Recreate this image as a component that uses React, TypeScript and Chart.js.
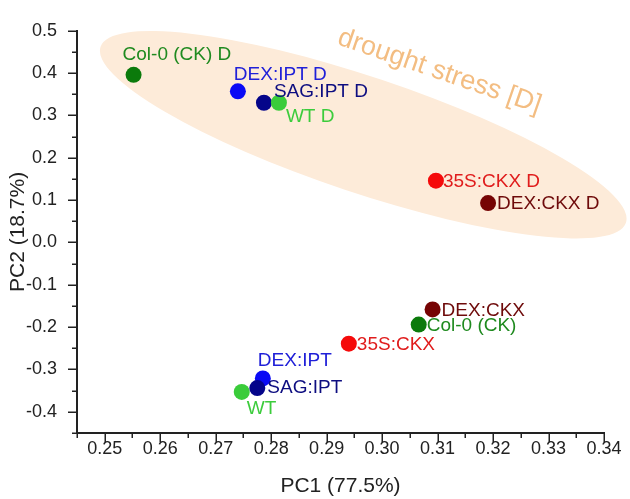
import React, { useEffect, useRef } from "react";
import { Chart, registerables } from "chart.js";

Chart.register(...registerables);

// ---- data ----
const SAMPLES = [
  "Col-0 (CK) D",
  "DEX:IPT D",
  "SAG:IPT D",
  "WT D",
  "35S:CKX D",
  "DEX:CKX D",
  "DEX:CKX",
  "Col-0 (CK)",
  "35S:CKX",
  "WT",
  "DEX:IPT",
  "SAG:IPT",
];
const PC1 = [0.2552, 0.274, 0.2787, 0.2814, 0.3097, 0.3191, 0.3091, 0.3066, 0.294, 0.2747, 0.2785, 0.2775];
const PC2 = [0.396, 0.357, 0.33, 0.33, 0.146, 0.093, -0.158, -0.194, -0.239, -0.353, -0.321, -0.344];
const X_TICKS = [0.25, 0.26, 0.27, 0.28, 0.29, 0.3, 0.31, 0.32, 0.33, 0.34];
const Y_TICKS = [-0.4, -0.3, -0.2, -0.1, 0.0, 0.1, 0.2, 0.3, 0.4, 0.5];
const X_TITLE = "PC1 (77.5%)";
const Y_TITLE = "PC2 (18.7%)";
const GROUP_LABEL = "drought stress [D]";

// ---- styles ----
const POINT_COLORS = [
  "#0b7a0b", "#0a0af5", "#05058a", "#3acc3a", "#f50a0a", "#760404",
  "#760404", "#0b7a0b", "#f50a0a", "#3acc3a", "#0a0af5", "#05058a",
];
const TEXT_COLORS = [
  "#1f8a1f", "#2020d8", "#0d0d80", "#3ccc3c", "#e01c1c", "#6e0a0a",
  "#6e0a0a", "#1f8a1f", "#e01c1c", "#3ccc3c", "#2020d8", "#0d0d80",
];
// label anchor offsets in px relative to the point centre: [dx to text start, dy to baseline]
const LABEL_OFFSETS: [number, number][] = [
  [-11, -15], [-4, -11], [10, -6], [7, 19], [7, 6.5], [9, 6],
  [9, 6.5], [8, 6.5], [8, 6], [5, 22], [-5, -12.7], [10, 5],
];
const FONT = "'Liberation Sans', Arial, sans-serif";
const AXIS_COLOR = "#222222";

const ELLIPSE_CENTER = { x: 0.2966, y: 0.2545 };
const ELLIPSE_RX = 277;
const ELLIPSE_RY = 58;
const ELLIPSE_ANGLE = 18.5;
const GROUP_LABEL_POS = { x: 0.3099, y: 0.387 };
const GROUP_LABEL_ANGLE = 19;

const decorPlugin = {
  id: "decor",
  beforeDatasetsDraw(chart: any) {
    const { ctx } = chart;
    const xs = chart.scales.x;
    const ys = chart.scales.y;
    ctx.save();
    const cx = xs.getPixelForValue(ELLIPSE_CENTER.x);
    const cy = ys.getPixelForValue(ELLIPSE_CENTER.y);
    ctx.beginPath();
    ctx.ellipse(cx, cy, ELLIPSE_RX, ELLIPSE_RY, (ELLIPSE_ANGLE * Math.PI) / 180, 0, Math.PI * 2);
    ctx.fillStyle = "#fdebd9";
    ctx.fill();

    const tx = xs.getPixelForValue(GROUP_LABEL_POS.x);
    const ty = ys.getPixelForValue(GROUP_LABEL_POS.y);
    ctx.translate(tx, ty);
    ctx.rotate((GROUP_LABEL_ANGLE * Math.PI) / 180);
    ctx.font = `27px ${FONT}`;
    ctx.fillStyle = "#f3bd82";
    ctx.textAlign = "center";
    ctx.textBaseline = "alphabetic";
    ctx.fillText(GROUP_LABEL, 0, 0);
    ctx.restore();
  },
  afterDatasetsDraw(chart: any) {
    const { ctx } = chart;
    const xs = chart.scales.x;
    const ys = chart.scales.y;
    ctx.save();
    ctx.font = `19px ${FONT}`;
    ctx.textAlign = "left";
    ctx.textBaseline = "alphabetic";
    SAMPLES.forEach((name, i) => {
      const px = xs.getPixelForValue(PC1[i]);
      const py = ys.getPixelForValue(PC2[i]);
      ctx.fillStyle = TEXT_COLORS[i];
      ctx.fillText(name, px + LABEL_OFFSETS[i][0], py + LABEL_OFFSETS[i][1]);
    });
    ctx.restore();
  },
  afterDraw(chart: any) {
    const { ctx, chartArea } = chart;
    const xs = chart.scales.x;
    const ys = chart.scales.y;
    ctx.save();
    ctx.strokeStyle = AXIS_COLOR;
    ctx.lineWidth = 1.5;
    ctx.beginPath();
    for (let k = 0; k <= 19; k++) {
      const v = xs.min + k * 0.005;
      const major = k % 2 === 1;
      const p = Math.round(xs.getPixelForValue(v)) + 0.25;
      ctx.moveTo(p, chartArea.bottom);
      ctx.lineTo(p, chartArea.bottom + (major ? 9 : 5));
    }
    for (let k = 0; k <= 19; k++) {
      const v = ys.min + k * 0.05;
      const major = k % 2 === 1;
      const p = Math.round(ys.getPixelForValue(v)) + 0.25;
      ctx.moveTo(chartArea.left, p);
      ctx.lineTo(chartArea.left - (major ? 9 : 5), p);
    }
    ctx.stroke();
    ctx.restore();
  },
};

export default function App() {
  const ref = useRef<HTMLCanvasElement>(null);

  useEffect(() => {
    const canvas = ref.current;
    if (!canvas) return;
    const chart = new Chart(canvas, {
      type: "scatter",
      data: {
        datasets: [
          {
            data: PC1.map((x, i) => ({ x, y: PC2[i] })),
            pointRadius: 8,
            pointHoverRadius: 8,
            pointBackgroundColor: POINT_COLORS,
            pointBorderWidth: 0,
            showLine: false,
          },
        ],
      },
      options: {
        animation: false,
        responsive: false,
        events: [],
        layout: { padding: { top: 16, right: 26, left: 0, bottom: 0 } },
        plugins: { legend: { display: false }, tooltip: { enabled: false } },
        scales: {
          x: {
            type: "linear",
            min: 0.245,
            max: 0.34,
            afterBuildTicks: (s: any) => {
              s.ticks = X_TICKS.map((value) => ({ value }));
            },
            afterFit: (s: any) => {
              s.height = 66;
            },
            grid: { display: false, drawTicks: false },
            border: { display: true, color: AXIS_COLOR, width: 2 },
            ticks: {
              autoSkip: false,
              maxRotation: 0,
              padding: 5,
              color: AXIS_COLOR,
              font: { family: FONT, size: 18 },
              callback: (v: any) => Number(v).toFixed(2),
            },
            title: {
              display: true,
              text: X_TITLE,
              color: AXIS_COLOR,
              font: { family: FONT, size: 21 },
              padding: { top: 0, bottom: 0 },
            },
          },
          y: {
            type: "linear",
            min: -0.45,
            max: 0.5,
            afterBuildTicks: (s: any) => {
              s.ticks = Y_TICKS.map((value) => ({ value }));
            },
            afterFit: (s: any) => {
              s.width = 77;
            },
            grid: { display: false, drawTicks: false },
            border: { display: true, color: AXIS_COLOR, width: 2 },
            ticks: {
              autoSkip: false,
              padding: 20,
              color: AXIS_COLOR,
              font: { family: FONT, size: 18 },
              callback: (v: any) => Number(v).toFixed(1),
            },
            title: {
              display: true,
              text: Y_TITLE,
              color: AXIS_COLOR,
              font: { family: FONT, size: 21 },
              padding: { top: 6, bottom: 0 },
            },
          },
        },
      },
      plugins: [decorPlugin],
    });
    return () => chart.destroy();
  }, []);

  return (
    <div style={{ position: "fixed", left: 0, top: 0, width: 630, height: 499, background: "#ffffff" }}>
      <canvas ref={ref} width={630} height={499} style={{ display: "block" }} />
    </div>
  );
}
